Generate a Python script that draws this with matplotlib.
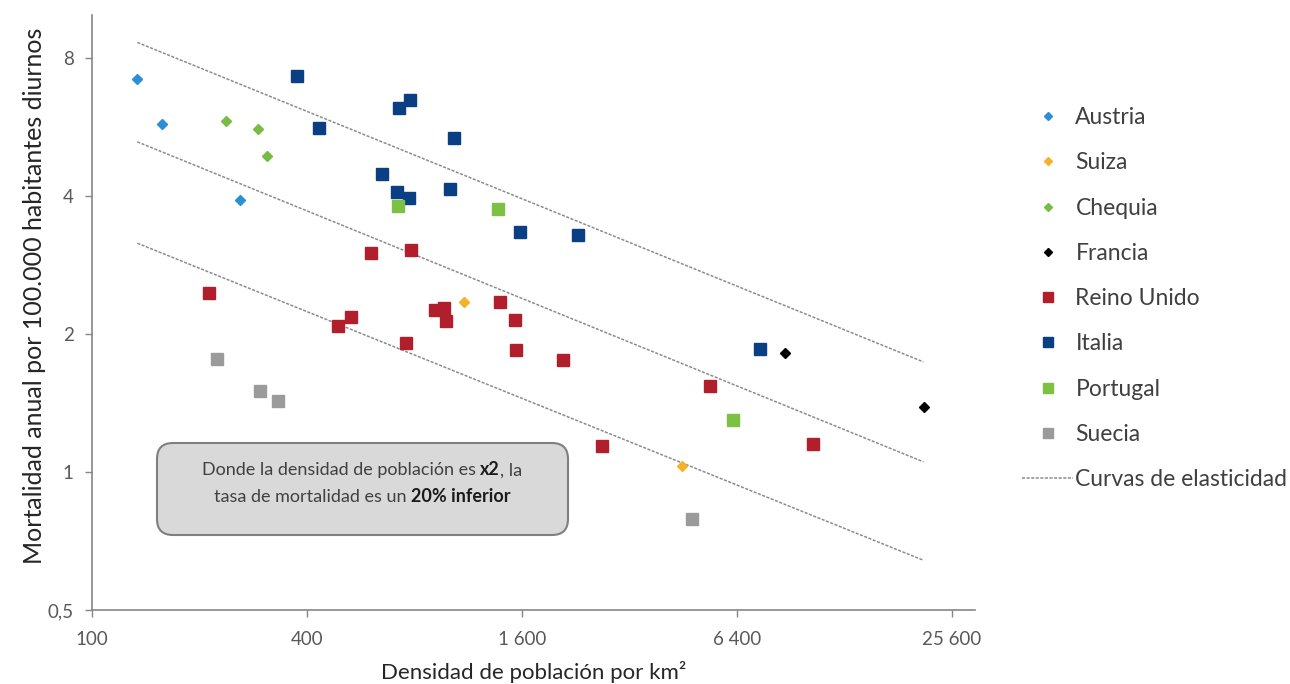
import matplotlib
matplotlib.use("Agg")
import matplotlib.pyplot as plt
from matplotlib.lines import Line2D
from matplotlib.patches import FancyBboxPatch
from matplotlib.offsetbox import TextArea, HPacker, VPacker, AnnotationBbox
from matplotlib.ticker import FixedLocator, NullLocator
import matplotlib.transforms as mtransforms

plt.rcParams['font.family'] = ['Lato', 'DejaVu Sans']

# Datos: densidad (hab/km2) y mortalidad anual por 100.000 habitantes diurnos
austria_x = [134, 157, 260]
austria_y = [7.20, 5.76, 3.92]
suiza_x = [1104, 4489]
suiza_y = [2.35, 1.03]
chequia_x = [237, 292, 310]
chequia_y = [5.83, 5.62, 4.91]
francia_x = [8749, 21360]
francia_y = [1.82, 1.39]
reino_x = [212, 489, 531, 604, 784, 758, 915, 970, 981, 1390, 1531, 1539, 2082, 2678, 5368, 10450]
reino_y = [2.46, 2.08, 2.18, 3.01, 3.05, 1.91, 2.26, 2.28, 2.14, 2.35, 2.15, 1.85, 1.76, 1.14, 1.54, 1.15]
italia_x = [374, 433, 649, 726, 779, 716, 774, 1029, 1005, 1581, 2293, 7410]
italia_y = [7.34, 5.63, 4.47, 6.25, 6.48, 4.09, 3.97, 5.37, 4.14, 3.34, 3.29, 1.86]
portugal_x = [718, 1368, 6239]
portugal_y = [3.81, 3.75, 1.30]
suecia_x = [224, 295, 332, 4800]
suecia_y = [1.77, 1.50, 1.43, 0.79]

# Curvas de elasticidad (extremos)
curva_x = [134, 21300]
curva_inicio = [8.67, 5.26, 3.16]
curva_fin = [1.74, 1.053, 0.642]

x_ticks = [100, 400, 1600, 6400, 25600]
x_labels = ['100', '400', '1 600', '6 400', '25 600']
y_ticks = [0.5, 1, 2, 4, 8]
y_labels = ['0,5', '1', '2', '4', '8']

series = [
    ('Austria', austria_x, austria_y, 'D', '#2a8fd3', 5.5),
    ('Suiza', suiza_x, suiza_y, 'D', '#f2b32a', 5.5),
    ('Chequia', chequia_x, chequia_y, 'D', '#78bb45', 5.5),
    ('Francia', francia_x, francia_y, 'D', '#000000', 5.5),
    ('Reino Unido', reino_x, reino_y, 's', '#b01f2b', 9),
    ('Italia', italia_x, italia_y, 's', '#0b3f83', 9),
    ('Portugal', portugal_x, portugal_y, 's', '#7cc143', 9),
    ('Suecia', suecia_x, suecia_y, 's', '#9b9b9b', 9),
]

fig = plt.figure(figsize=(12.9, 6.84), dpi=100)
ax = fig.add_axes([0.0713, 0.1082, 0.6845, 0.8698])

grid_col = '#8c8c8c'
for y0, y1 in zip(curva_inicio, curva_fin):
    ax.plot(curva_x, [y0, y1], color=grid_col, lw=1.1, ls=(0, (2, 1)), zorder=1)

handles = []
for name, xs, ys, mk, col, ms in series:
    ax.plot(xs, ys, ls='none', marker=mk, ms=ms, color=col, mec=col, zorder=3)
    handles.append(Line2D([], [], ls='none', marker=mk, ms=ms * 0.8, color=col, mec=col))
handles.append(Line2D([], [], color=grid_col, lw=1.1, ls=(0, (2, 1))))

ax.set_xscale('log')
ax.set_yscale('log')
ax.set_xlim(100, 29700)
ax.set_ylim(0.5, 9.95)
ax.xaxis.set_major_locator(FixedLocator(x_ticks))
ax.xaxis.set_minor_locator(NullLocator())
ax.set_xticklabels(x_labels)
ax.yaxis.set_major_locator(FixedLocator(y_ticks))
ax.yaxis.set_minor_locator(NullLocator())
ax.set_yticklabels(y_labels)

for s in ['top', 'right']:
    ax.spines[s].set_visible(False)
for s in ['left', 'bottom']:
    ax.spines[s].set_color('#868686')
    ax.spines[s].set_linewidth(1.2)
ax.tick_params(axis='both', colors='#868686', labelcolor='#595959', labelsize=13.5, length=5, width=1)
ax.tick_params(axis='x', pad=10)
ax.tick_params(axis='y', pad=8)

ax.set_xlabel('Densidad de población por km²', fontsize=16, color='#262626')
ax.xaxis.set_label_coords(0.5, -0.086)
ax.set_ylabel('Mortalidad anual por 100.000 habitantes diurnos', fontsize=18, color='#262626')
ax.yaxis.set_label_coords(-0.052, 0.528)

# Recuadro con el comentario
box = FancyBboxPatch((157, 684 - 535), 411, 92, boxstyle='round,pad=0,rounding_size=16',
                     transform=mtransforms.IdentityTransform(), facecolor='#d9d9d9',
                     edgecolor='#7f7f7f', lw=1.5, zorder=2)
fig.patches.append(box)

tcol = '#404040'
fs = 13
line1 = HPacker(children=[TextArea('Donde la densidad de población es ', textprops=dict(color=tcol, fontsize=fs)),
                          TextArea('x2', textprops=dict(color='#1a1a1a', fontsize=fs, fontweight='bold')),
                          TextArea(', la', textprops=dict(color=tcol, fontsize=fs))],
                align='baseline', pad=0, sep=0)
line2 = HPacker(children=[TextArea('tasa de mortalidad es un ', textprops=dict(color=tcol, fontsize=fs)),
                          TextArea('20% inferior', textprops=dict(color='#1a1a1a', fontsize=fs, fontweight='bold'))],
                align='baseline', pad=0, sep=0)
block = VPacker(children=[line1, line2], align='center', pad=0, sep=7)
ab = AnnotationBbox(block, (362 / 1290, 1 - 483 / 684), xycoords='figure fraction',
                    frameon=False, box_alignment=(0.5, 0.5), zorder=4)
fig.add_artist(ab)

fig.legend(handles=handles, labels=[s[0] for s in series] + ['Curvas de elasticidad'],
           loc='upper left', bbox_to_anchor=(1022 / 1290, 1 - 107 / 684),
           frameon=False, fontsize=16.5, labelcolor='#404040', handlelength=2.23,
           handletextpad=0.1, labelspacing=1.06, borderpad=0, borderaxespad=0)

fig.savefig('out.png', dpi=100)
